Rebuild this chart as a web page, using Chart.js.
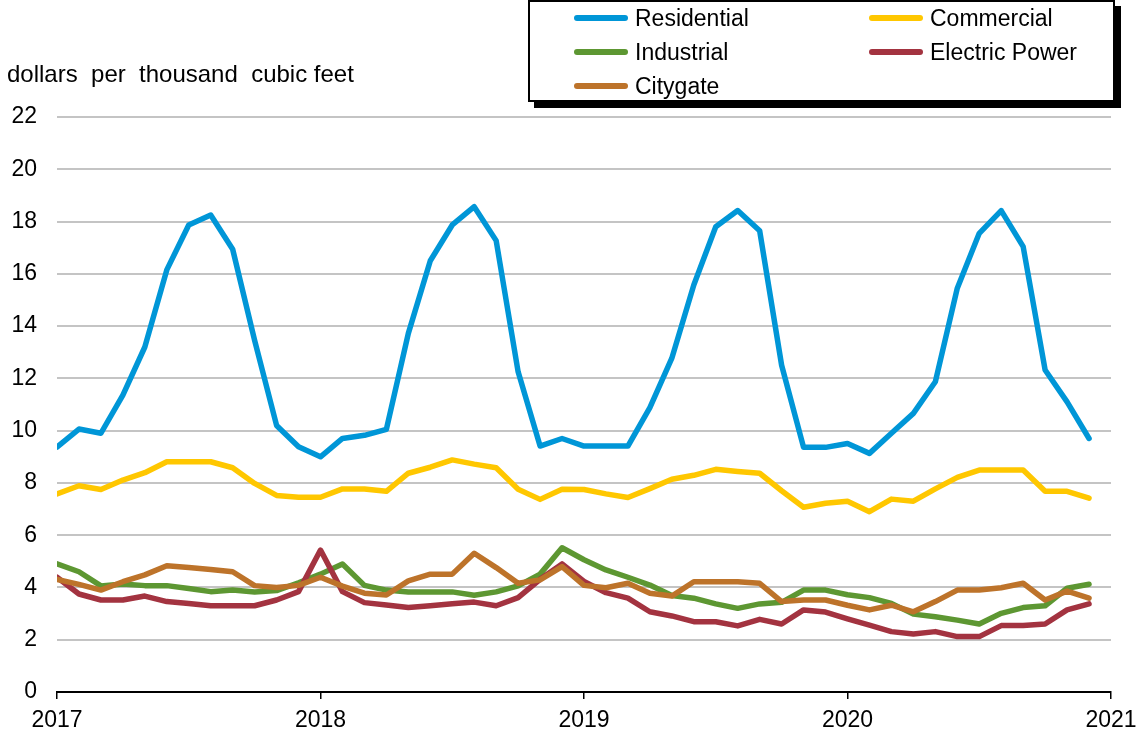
<!DOCTYPE html>
<html>
<head>
<meta charset="utf-8">
<script src="https://cdn.jsdelivr.net/npm/chart.js@4.4.1/dist/chart.umd.min.js"></script>
<style>
  body { margin: 0; background: #fff; font-family: "Liberation Sans", Arial, sans-serif; }
  #wrap { position: relative; width: 1141px; height: 738px; }
  #units { position: absolute; left: 7px; top: 61px; font-size: 24px; line-height: 26px; white-space: pre; color: #000; }
  #legend { position: absolute; left: 528px; top: 0; width: 583px; height: 98px; border: 2px solid #000; background: #fff; box-shadow: 6px 6px 0 #000; }
  .item { position: absolute; width: 280px; height: 26px; font-size: 23px; line-height: 26px; color: #000; }
  .swatch { position: absolute; left: 0; top: 10px; width: 54px; height: 6px; border-radius: 3px; }
  .txt { position: absolute; left: 61px; top: 0; white-space: nowrap; }
</style>
</head>
<body>
<div id="wrap">
  <canvas id="chart" width="1141" height="738"></canvas>
  <div id="units">dollars  per  thousand  cubic feet</div>
  <div id="legend"></div>
</div>
<script>
// monthly prices, dollars per thousand cubic feet
const months = [
  '2017-01','2017-02','2017-03','2017-04','2017-05','2017-06','2017-07','2017-08','2017-09','2017-10','2017-11','2017-12',
  '2018-01','2018-02','2018-03','2018-04','2018-05','2018-06','2018-07','2018-08','2018-09','2018-10','2018-11','2018-12',
  '2019-01','2019-02','2019-03','2019-04','2019-05','2019-06','2019-07','2019-08','2019-09','2019-10','2019-11','2019-12',
  '2020-01','2020-02','2020-03','2020-04','2020-05','2020-06','2020-07','2020-08','2020-09','2020-10','2020-11','2020-12'
];
const yearTicks = [2017, 2018, 2019, 2020, 2021];

const residential = [
  9.37, 10.06, 9.90, 11.36, 13.20, 16.15, 17.87, 18.25, 16.94, 13.45, 10.20, 9.38,
  9.00, 9.70, 9.82, 10.05, 13.72, 16.50, 17.87, 18.57, 17.27, 12.25, 9.41, 9.70,
  9.41, 9.41, 9.41, 10.88, 12.77, 15.57, 17.80, 18.42, 17.65, 12.50, 9.36, 9.36,
  9.51, 9.13, 9.90, 10.66, 11.87, 15.45, 17.55, 18.42, 17.04, 12.32, 11.10, 9.70
];
const commercial = [
  7.58, 7.89, 7.75, 8.11, 8.39, 8.81, 8.81, 8.81, 8.58, 7.98, 7.52, 7.45,
  7.45, 7.77, 7.77, 7.68, 8.37, 8.60, 8.88, 8.72, 8.58, 7.76, 7.37, 7.76,
  7.75, 7.58, 7.44, 7.78, 8.14, 8.29, 8.52, 8.44, 8.37, 7.70, 7.07, 7.22,
  7.30, 6.90, 7.38, 7.30, 7.77, 8.21, 8.49, 8.49, 8.49, 7.68, 7.68, 7.42
];
const industrial = [
  4.90, 4.60, 4.06, 4.13, 4.07, 4.07, 3.96, 3.84, 3.90, 3.83, 3.88, 4.18,
  4.51, 4.90, 4.08, 3.90, 3.83, 3.83, 3.83, 3.70, 3.83, 4.06, 4.51, 5.52,
  5.06, 4.67, 4.39, 4.09, 3.69, 3.59, 3.37, 3.20, 3.37, 3.43, 3.90, 3.90,
  3.72, 3.61, 3.39, 2.98, 2.88, 2.75, 2.60, 3.01, 3.23, 3.30, 3.97, 4.12
];
const electricPower = [
  4.39, 3.75, 3.52, 3.52, 3.67, 3.46, 3.39, 3.30, 3.30, 3.30, 3.52, 3.84,
  5.43, 3.84, 3.42, 3.33, 3.23, 3.30, 3.38, 3.44, 3.30, 3.61, 4.31, 4.90,
  4.23, 3.80, 3.59, 3.07, 2.91, 2.69, 2.69, 2.53, 2.78, 2.60, 3.14, 3.06,
  2.80, 2.56, 2.31, 2.22, 2.31, 2.12, 2.12, 2.54, 2.54, 2.60, 3.14, 3.37
];
const citygate = [
  4.31, 4.12, 3.90, 4.22, 4.48, 4.83, 4.76, 4.69, 4.60, 4.07, 4.00, 4.08,
  4.39, 4.05, 3.78, 3.71, 4.25, 4.51, 4.51, 5.31, 4.76, 4.16, 4.29, 4.80,
  4.08, 3.99, 4.16, 3.78, 3.67, 4.22, 4.22, 4.22, 4.16, 3.46, 3.52, 3.52,
  3.32, 3.14, 3.32, 3.07, 3.46, 3.90, 3.90, 3.99, 4.16, 3.52, 3.86, 3.59
];

const seriesNames = ['Residential', 'Commercial', 'Industrial', 'Electric Power', 'Citygate'];
const seriesColors = ['#0096d7', '#ffc700', '#5d9732', '#a33340', '#bd732a'];
const seriesValues = [residential, commercial, industrial, electricPower, citygate];

// '2018-03' -> 2018.1667 on the linear time axis
const monthToYear = m => Number(m.slice(0, 4)) + (Number(m.slice(5, 7)) - 1) / 12;

const datasets = seriesNames.map((name, i) => ({
  label: name,
  data: seriesValues[i].map((v, j) => ({ x: monthToYear(months[j]), y: v })),
  borderColor: seriesColors[i],
  backgroundColor: seriesColors[i],
  borderWidth: 5.5,
  pointRadius: 0,
  tension: 0,
  fill: false,
  borderJoinStyle: 'round',
  borderCapStyle: 'round',
  order: seriesNames.length - i
}));

const font = { family: '"Liberation Sans", Arial, sans-serif', size: 23 };

new Chart(document.getElementById('chart'), {
  type: 'line',
  data: { datasets: datasets },
  options: {
    responsive: false,
    animation: false,
    layout: { padding: { top: 117, right: 30, bottom: 0, left: 0 } },
    plugins: { legend: { display: false }, tooltip: { enabled: false } },
    scales: {
      x: {
        type: 'linear',
        min: yearTicks[0],
        max: yearTicks[yearTicks.length - 1],
        afterFit: s => { s.height = 46; s.paddingLeft = 0; s.paddingRight = 0; },
        afterBuildTicks: s => { s.ticks = yearTicks.map(v => ({ value: v })); },
        ticks: { color: '#000', font: font, padding: 8, maxRotation: 0, callback: v => String(v) },
        grid: { drawOnChartArea: false, drawTicks: true, tickLength: 7, color: '#000', lineWidth: 1.5 },
        border: { color: '#000', width: 2 }
      },
      y: {
        min: 0,
        max: 22,
        afterFit: s => { s.width = 57; },
        ticks: { stepSize: 2, color: '#000', font: font, padding: 20 },
        grid: {
          color: c => (c.tick && c.tick.value === 0) ? 'rgba(0,0,0,0)' : '#c4c4c4',
          lineWidth: 2,
          drawTicks: false
        },
        border: { display: false }
      }
    }
  }
});

// legend box, two columns
const legend = document.getElementById('legend');
seriesNames.forEach((name, i) => {
  const item = document.createElement('div');
  item.className = 'item';
  item.style.left = (i % 2 === 0 ? 44 : 339) + 'px';
  item.style.top = (3 + Math.floor(i / 2) * 34) + 'px';
  item.innerHTML = '<span class="swatch" style="background:' + seriesColors[i] + '"></span><span class="txt">' + name + '</span>';
  legend.appendChild(item);
});
</script>
</body>
</html>
